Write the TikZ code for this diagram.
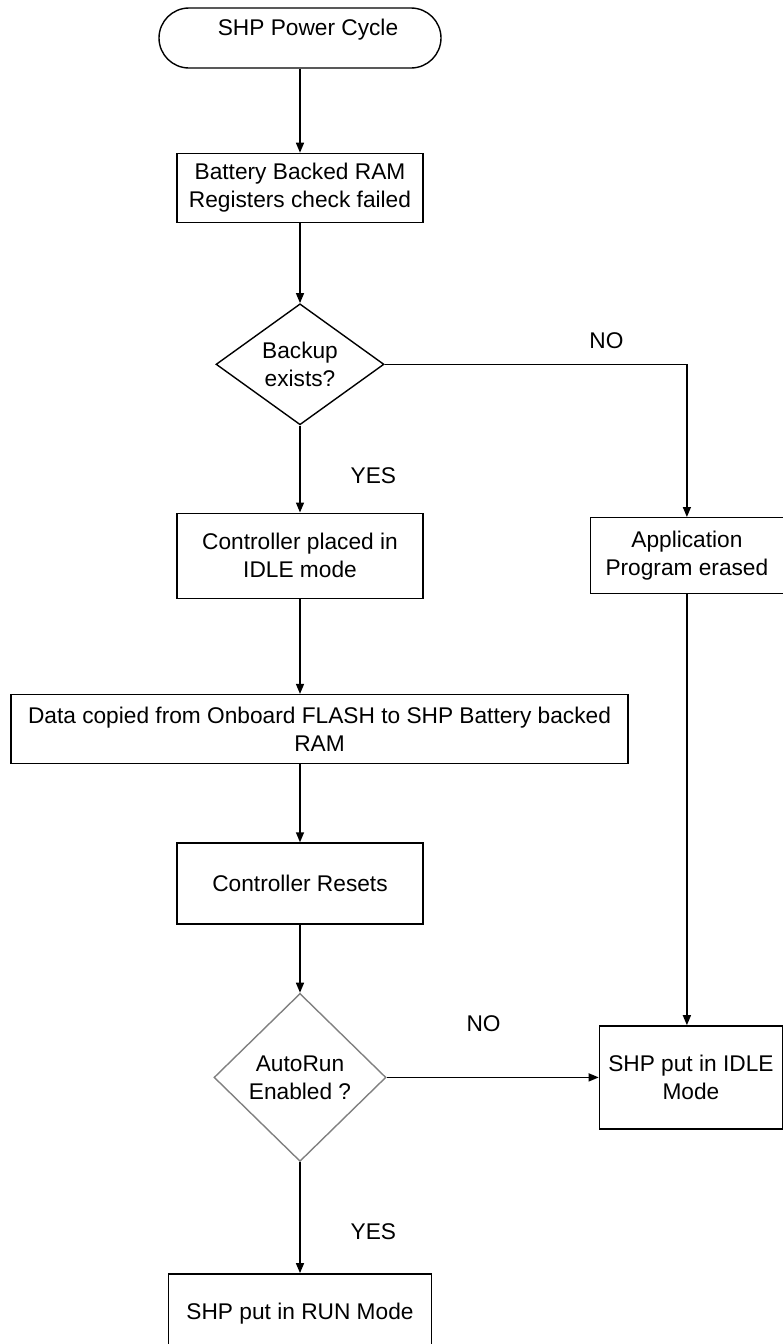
\documentclass[tikz,border=0pt]{standalone}
\usepackage{fontspec}
\setmainfont{Liberation Sans}
\usepackage{tikz}
\usetikzlibrary{arrows.meta,positioning,shapes.geometric}

\begin{document}
\begin{tikzpicture}[
  x=1pt,y=-1pt,
  every node/.style={font=\fontsize{22.7pt}{28pt}\selectfont},
  stepbox/.style={rectangle,draw,line width=1.4pt,align=center,inner sep=0pt},
  decision/.style={diamond,draw,line width=1.4pt,align=center,inner sep=0pt},
  arrow/.style={-{Triangle[length=10pt,width=8pt]},line width=1.4pt},
  answer/.style={inner sep=0pt},
]
\useasboundingbox (0,0) rectangle (783,1344);

\node[stepbox,rounded corners=30pt,minimum width=282pt,minimum height=60pt,
  text height=27pt,text depth=33pt] (start) at (300,38) {\hspace*{16pt}SHP Power Cycle};
\node[stepbox,below=84pt of start,minimum width=246pt,minimum height=69pt] (check) {Battery Backed RAM\\Registers check failed};
\node[decision,below=80pt of check,minimum width=168pt,minimum height=121pt] (backup) {Backup\\exists?};
\node[stepbox,below=87pt of backup,minimum width=246pt,minimum height=85pt] (idlectl) {Controller placed in\\IDLE mode};
\node[stepbox,below=95pt of idlectl,xshift=19.5pt,minimum width=617pt,minimum height=69pt] (copy) {Data copied from Onboard FLASH to SHP Battery backed\\RAM};
\node[stepbox,below=78pt of copy,xshift=-19.5pt,minimum width=246pt,minimum height=81pt] (reset) {Controller Resets};
\node[decision,draw=gray,below=68pt of reset,minimum width=172pt,minimum height=168pt] (autorun) {AutoRun\\Enabled ?};
\node[stepbox,below=111pt of autorun,minimum width=263pt,minimum height=79pt] (runmode) {SHP put in RUN Mode};

% right branch
\node[stepbox,right=166pt of idlectl,minimum width=193pt,minimum height=76pt] (erase) {Application\\Program erased};
\node[stepbox,right=212pt of autorun,minimum width=183pt,minimum height=103pt] (idlemode) {SHP put in IDLE\\Mode};

\draw[arrow] (start) -- (check);
\draw[arrow] (check) -- (backup);
\draw[arrow] (backup) -- node[answer,right=50pt,pos=0.575]{YES} (idlectl);
\draw[arrow] (backup.east) -| node[answer,above=15pt,pos=0.367]{NO} (erase.north);
\draw[arrow] (idlectl.south) -- (idlectl.south |- copy.north);
\draw[arrow] (copy.south -| reset.north) -- (reset.north);
\draw[arrow] (reset) -- (autorun);
\draw[arrow] (autorun.east) -- node[answer,above=45pt,pos=0.457]{NO} (idlemode.west);
\draw[arrow] (erase.south) -- (erase.south |- idlemode.north);
\draw[arrow] (autorun) -- node[answer,right=50pt,pos=0.63]{YES} (runmode);
\end{tikzpicture}
\end{document}
